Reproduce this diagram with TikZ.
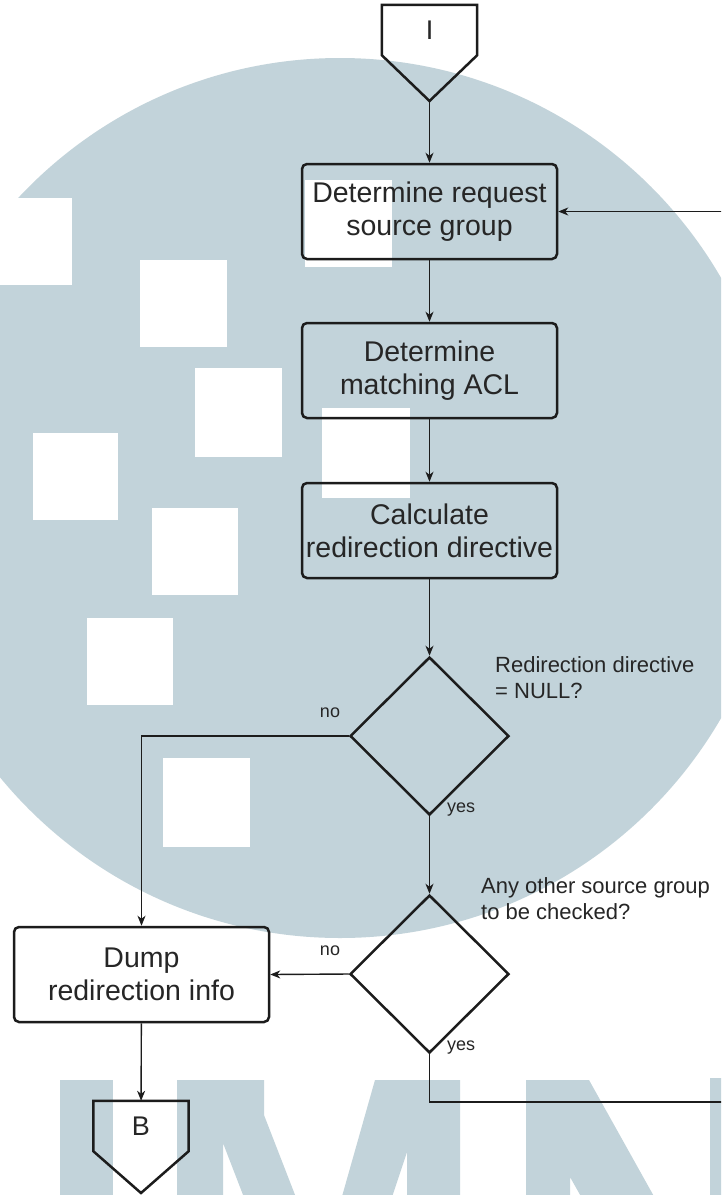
\documentclass[tikz,border=0pt]{standalone}
\usepackage{fontspec}
\setmainfont{Liberation Sans}
\usetikzlibrary{shapes.geometric,arrows.meta,calc}
\definecolor{wm}{RGB}{194,211,218}
\definecolor{ink}{RGB}{28,28,28}
\definecolor{txt}{RGB}{38,38,38}

\begin{document}
\begin{tikzpicture}[x=1pt,y=-1pt,
  stepbox/.style={draw=ink, line width=2.5pt, rounded corners=5pt,
    minimum width=255pt, minimum height=95pt, inner sep=0pt, align=center,
    text=txt, font=\fontsize{28.5}{33}\selectfont},
  decision/.style={diamond, draw=ink, line width=2.5pt, line join=miter,
    minimum width=159pt, minimum height=158pt, inner sep=0pt},
  offpage/.style={minimum width=95pt, minimum height=50pt, inner sep=0pt,
    text=txt, font=\fontsize{27}{30}\selectfont},
  pageline/.style={draw=ink, line width=2.5pt, line join=miter},
  flow/.style={draw=ink, line width=1.4pt,
    -{Stealth[length=10pt,width=8pt,inset=3pt]}},
  note/.style={text=txt, font=\fontsize{22}{26.5}\selectfont, align=left,
    inner sep=0pt},
  tag/.style={text=txt, font=\fontsize{18}{20}\selectfont, inner sep=0pt},
]
% canvas
\path[use as bounding box] (0,0) rectangle (721,1195);
\clip (0,0) rectangle (721,1195);
\fill[white] (0,0) rectangle (721,1195);

% background emblem: disc with white squares, letters along the bottom
\fill[wm] (340,498) circle[radius=440pt];
\fill[white] (-15,198) rectangle (72,285);
\fill[white] (140,260) rectangle (227,347);
\fill[white] (195,368) rectangle (282,457);
\fill[white] (33,433) rectangle (118,520);
\fill[white] (152,508) rectangle (238,595);
\fill[white] (87,618) rectangle (173,705);
\fill[white] (163,758) rectangle (250,847);
\fill[white] (322,408) rectangle (410,498);
\fill[white] (305,180) rectangle (392,267);

\fill[wm] (60,1080) rectangle (113,1200);
\fill[wm] (177,1080) -- (264,1080) -- (264,1115) -- (297,1200) -- (245,1200)
  -- (223,1143) -- (223,1200) -- (177,1200) -- cycle;
\fill[wm] (375,1080) -- (460,1080) -- (460,1200) -- (407,1200) -- (407,1152)
  -- (391,1200) -- (341,1200) -- cycle;
\fill[wm] (526,1080) -- (589,1080) -- (656,1200) -- (583,1200) -- (570,1177)
  -- (570,1200) -- (526,1200) -- cycle;
\fill[wm] (710,1078) rectangle (730,1200);

% off-page connector at the top
\node[offpage] (I) at (429.5,30) {I};
\coordinate (Itip) at (429.5,101);
\draw[pageline] (I.north west) -- (I.north east) -- (I.south east) -- (Itip)
  -- (I.south west) -- cycle;

% process steps
\node[stepbox] (b1) at (429.5,211.5) {Determine request\\source group};
\node[stepbox] (b2) at (429.5,370.5) {Determine\\matching ACL};
\node[stepbox] (b3) at (429.5,530.5) {Calculate\\redirection directive};
\node[decision] (d1) at (429.5,736) {};
\node[decision] (d2) at (429.5,974) {};
\node[stepbox] (b4) at (141.5,974.5) {Dump\\redirection info};

% off-page connector at the bottom
\node[offpage] (B) at (141,1126) {B};
\coordinate (Btip) at (141,1193);
\draw[pageline] (B.north west) -- (B.north east) -- (B.south east) -- (Btip)
  -- (B.south west) -- cycle;

% decision texts and branch labels
\node[note, anchor=north west] (q1) at (495,656) {Redirection directive\\= NULL?};
\node[note, anchor=north west] (q2) at (481,877) {Any other source group\\to be checked?};
\node[tag, anchor=base] (n1) at (330,717) {no};
\node[tag, anchor=base west] (y1) at (447,812) {yes};
\node[tag, anchor=base] (n2) at (330,955) {no};
\node[tag, anchor=base west] (y2) at (447,1050) {yes};

% connectors
\draw[flow] (Itip) -- (b1);
\draw[flow] (b1) -- (b2);
\draw[flow] (b2) -- (b3);
\draw[flow] (b3) -- (d1);
\draw[flow] (d1.west) -| (b4);
\draw[flow] (d1) -- (d2);
\draw[flow] (d2.west) -- (b4.east);
\draw[flow] (b4) -- (B);
\coordinate (loopS) at (740,1102);
\draw[flow] (d2.south) |- (loopS) |- (b1.east);
\end{tikzpicture}
\end{document}
